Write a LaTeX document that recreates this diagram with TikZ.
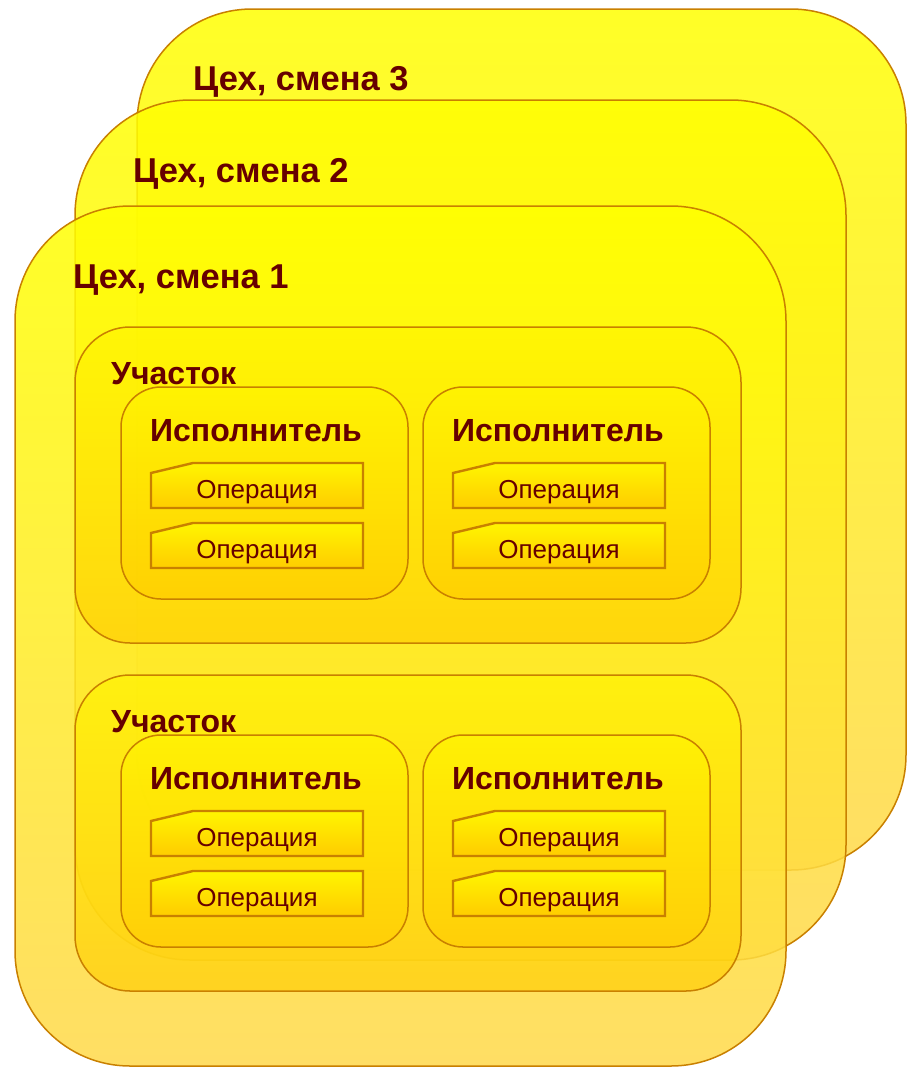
\documentclass[tikz,border=0pt]{standalone}
\usepackage{fontspec}
\setmainfont{Liberation Sans}

\definecolor{rim}{HTML}{C98000}
\definecolor{ink}{HTML}{660000}
\definecolor{shiftlow}{HTML}{FFD84A}
\definecolor{arealow}{HTML}{FFCC00}
\definecolor{hitop}{HTML}{FFF500}

\begin{document}
\begin{tikzpicture}[x=1pt,y=-1pt,
  shiftbox/.style={draw=rim,line width=1.5pt,rounded corners=115pt,
    top color=yellow,bottom color=shiftlow,fill opacity=0.85},
  areabox/.style={draw=rim,line width=1.5pt,rounded corners=55pt,
    top color=hitop,bottom color=arealow,fill opacity=0.65},
  workerbox/.style={draw=rim,line width=1.5pt,rounded corners=40pt,
    top color=hitop,bottom color=arealow,fill opacity=0.65},
  opbox/.style={draw=rim,line width=2.4pt,top color=hitop,bottom color=arealow},
  shiftlabel/.style={text=ink,font=\bfseries\fontsize{34.5}{40}\selectfont,anchor=west,inner sep=0pt},
  arealabel/.style={text=ink,font=\bfseries\fontsize{32}{36}\selectfont,anchor=west,inner sep=0pt},
  workerlabel/.style={text=ink,font=\bfseries\fontsize{32}{36}\selectfont,inner sep=0pt},
  oplabel/.style={text=ink,font=\fontsize{26}{30}\selectfont,inner sep=0pt}]
\useasboundingbox (0,0) rectangle (907,1068);

% shifts, back to front
\draw[shiftbox] (137,9) rectangle (906,870);
\node[shiftlabel] (shift3) at (193,82) {Цех, смена 3};
\draw[shiftbox] (75,100) rectangle (846,960);
\node[shiftlabel] (shift2) at (133,174) {Цех, смена 2};
\draw[shiftbox] (15,206) rectangle (786,1066);
\node[shiftlabel] (shift1) at (73,280) {Цех, смена 1};

% areas, workers, operations
\foreach \r/\sy in {a/327,b/675}{
  \draw[areabox] (75,\sy) rectangle (741,\sy+316);
  \node[arealabel] (area\r) at (111,\sy+47) {Участок};
  \foreach \c/\px in {1/121,2/423}{
    \draw[workerbox] (\px,\sy+60) rectangle (\px+287,\sy+272);
    \node[workerlabel] (worker\r\c) at (\px+135,\sy+104) {Исполнитель};
    \foreach \k/\oy in {1/136,2/196}{
      \draw[opbox] (\px+30,\sy+\oy+45) -- (\px+30,\sy+\oy+10) -- (\px+72,\sy+\oy)
        -- (\px+242,\sy+\oy) -- (\px+242,\sy+\oy+45) -- cycle;
      \node[oplabel] (op\r\c\k) at (\px+136,\sy+\oy+29) {Операция};
    }
  }
}
\end{tikzpicture}
\end{document}
